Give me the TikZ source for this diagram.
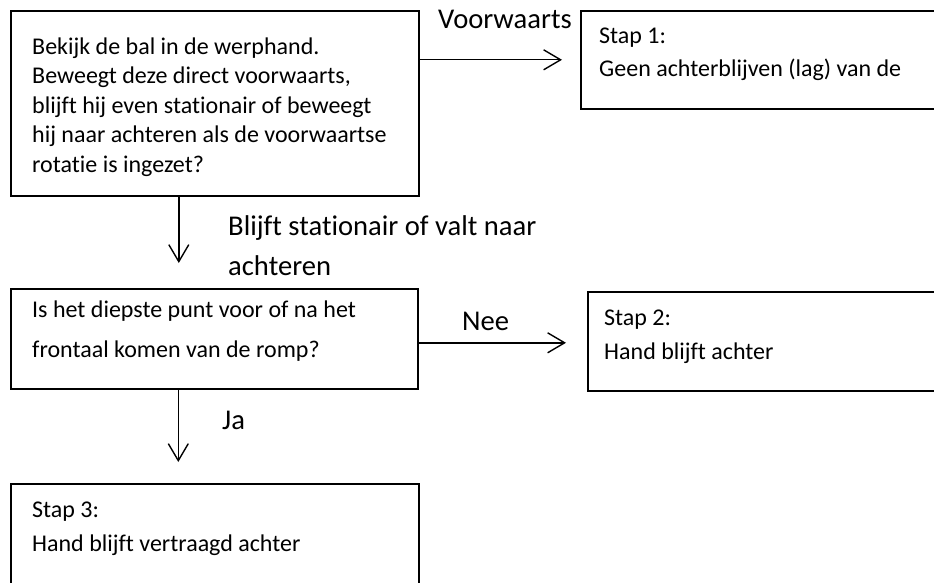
\documentclass[tikz,border=0pt]{standalone}
\usepackage{fontspec}
\setmainfont{Carlito}[Ligatures=NoCommon]
\usetikzlibrary{arrows.meta}
\begin{document}
\begin{tikzpicture}[x=1pt,y=-1pt,
  box/.style={draw, line width=1.6pt, rectangle, inner sep=0pt, anchor=north west},
  % multi-line texts are placed by the baseline of their last line
  txt/.style={anchor=base west, inner sep=0pt, align=left, font=\fontsize{24}{29.4}\selectfont},
  txtstep/.style={txt, font=\fontsize{24}{33.5}\selectfont},
  txtwide/.style={txt, font=\fontsize{24}{40}\selectfont},
  lbl/.style={anchor=base west, inner sep=0pt, align=left, font=\fontsize{28.6}{40}\selectfont},
  flow/.style={line width=1.4pt, -{Straight Barb[length=17pt,width=20pt]}}]
\clip (0,0) rectangle (934,583);
\fill[white] (0,0) rectangle (934,583);
% boxes
\node[box, minimum width=408pt, minimum height=185pt] (q1) at (10,10) {};
\node[box, minimum width=370pt, minimum height=98pt]  (s1) at (580,10) {};
\node[box, minimum width=407pt, minimum height=100pt] (q2) at (10,288) {};
\node[box, minimum width=370pt, minimum height=99pt]  (s2) at (587,291) {};
\node[box, minimum width=408pt, minimum height=120pt] (s3) at (10,483) {};
% box texts
\node[txt] (tq1) at (32,172) {Bekijk de bal in de werphand.\\Beweegt deze direct voorwaarts,\\blijft hij even stationair of beweegt\\hij naar achteren als de voorwaartse\\rotatie is ingezet?};
\node[txtstep] (ts1) at (599,77) {Stap 1:\\Geen achterblijven (lag) van de};
\node[txtwide] (tq2) at (32,357) {Is het diepste punt voor of na het\\frontaal komen van de romp?};
\node[txtstep] (ts2) at (604,359) {Stap 2:\\Hand blijft achter};
\node[txtstep] (ts3) at (32,551) {Stap 3:\\Hand blijft vertraagd achter};
% connectors
\draw[flow, shorten >=18pt] (q1.east |- s1.west) -- (s1.west);
\draw[flow, shorten >=25pt] ([xshift=-36pt]q1.south) -- ([xshift=-36pt]q1.south |- q2.north);
\draw[flow, shorten >=21pt] ([yshift=-4pt]q2.east) -- ([yshift=-4pt]q2.east -| s2.west);
\draw[flow, shorten >=21pt] ([xshift=-36pt]q2.south) -- ([xshift=-36pt]q2.south |- s3.north);
% connector labels
\node[lbl] (l1) at (438,29) {Voorwaarts};
\node[lbl] (l2) at (228,275) {Blijft stationair of valt naar\\achteren};
\node[lbl] (l3) at (462,330) {Nee};
\node[lbl] (l4) at (222,429) {Ja};
\end{tikzpicture}
\end{document}
